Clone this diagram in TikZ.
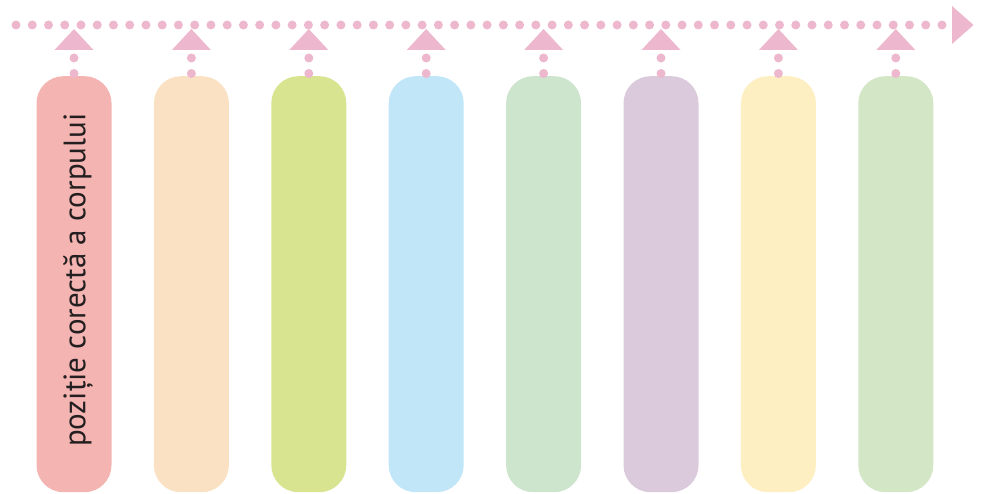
\documentclass[tikz,border=0pt]{standalone}
\usepackage{fontspec}
\setmainfont{PT Sans}
\usetikzlibrary{calc}
\definecolor{dotpink}{HTML}{EDB8CD}
\definecolor{txt}{HTML}{231F20}
\definecolor{c1}{HTML}{F4B4B1}
\definecolor{c2}{HTML}{FBE1C4}
\definecolor{c3}{HTML}{D8E490}
\definecolor{c4}{HTML}{C0E6F8}
\definecolor{c5}{HTML}{CDE4CD}
\definecolor{c6}{HTML}{DBCADC}
\definecolor{c7}{HTML}{FDEFC1}
\definecolor{c8}{HTML}{D3E6C6}
\tikzset{
  pillar/.style={fill=#1, draw=none, rounded corners=27pt, minimum width=75pt, minimum height=416pt, inner sep=0pt, anchor=north},
  pdot/.style={fill=dotpink, draw=none, circle, minimum size=9pt, inner sep=0pt},
  marker/.style={fill=dotpink, draw=none},
}
\begin{document}
\begin{tikzpicture}[x=1pt,y=-1pt]
\useasboundingbox (0,0) rectangle (981,494);
% timeline dots
\foreach \i in {0,...,57} {
  \node[pdot] (t\i) at ({16+\i*16.245},25) {};
}
\coordinate (tipbase) at (952,25);
\fill[marker] (952,6) -- (973.5,25) -- (952,44) -- cycle;
% pillars
\foreach \c [count=\k from 0] in {c1,c2,c3,c4,c5,c6,c7,c8} {
  \pgfmathsetmacro{\cx}{74+\k*117.4}
  \node[pillar=\c] (p\k) at (\cx,76) {};
  \fill[marker] (\cx,29) -- (\cx+19.5,50) -- (\cx-19.5,50) -- cycle;
  \node[pdot] (u\k) at (\cx,58) {};
  \node[pdot] (v\k) at (\cx,73.5) {};
}
\node[rotate=90, font=\fontsize{31}{31}\selectfont, text=txt, inner sep=0pt] (lbl) at ($(p0.center)+(4,-4)$) {poziție corectă a corpului};
\end{tikzpicture}
\end{document}
